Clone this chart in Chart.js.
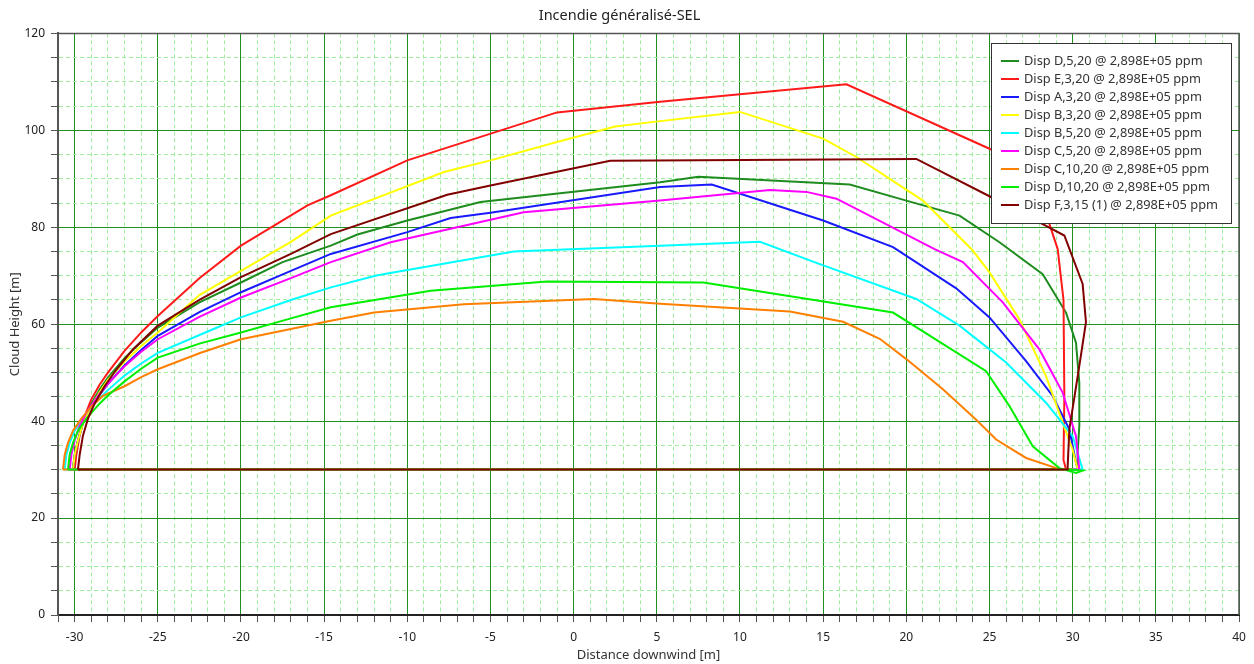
<!DOCTYPE html>
<html>
<head>
<meta charset="utf-8">
<title>Incendie généralisé-SEL</title>
<script src="https://cdn.jsdelivr.net/npm/chart.js@4.4.1/dist/chart.umd.min.js"></script>
<style>
  html, body { margin: 0; padding: 0; background: #fff; }
  #wrap { width: 1254px; height: 664px; }
</style>
</head>
<body>
<div id="wrap"><canvas id="cloudChart" width="1254" height="664"></canvas></div>
<script>
// series: x = distance downwind [m], y = cloud height [m]
const dispD5x = [-30.1, -30, -29.8, -29.5, -29, -28.5, -28, -27, -26, -25, -22.5, -20, -17.5, -14.6, -13, -10, -5.6, 5.2, 7.5, 16.6, 20, 23.2, 25.6, 28.2, 29.6, 30.2, 30.4, 30.4, 30.3, 30.3, -30.1];
const dispD5y = [30, 33, 36, 40, 43.6, 46.5, 49, 53, 56.3, 59.3, 64.5, 68.6, 72.8, 76.2, 78.5, 81.4, 85.2, 89.3, 90.4, 88.8, 85.5, 82.4, 76.9, 70.3, 62.4, 56.2, 47.9, 39, 33.5, 30, 30];

const dispE3x = [-30, -29.9, -29.7, -29.4, -29, -28.5, -28, -27, -26, -25, -22.5, -20, -16, -14.6, -10, -1, 5.2, 16.4, 25, 27.5, 28.6, 29.1, 29.45, 29.5, 29.45, 29.6, -30];
const dispE3y = [30, 33, 37, 41, 44.5, 47.5, 50, 54.5, 58.3, 61.7, 69.5, 76.2, 84.5, 86.6, 93.8, 103.7, 105.9, 109.5, 96.2, 91, 80.7, 75.5, 65, 45, 32, 30, 30];

const dispA3x = [-30.1, -30, -29.8, -29.5, -29, -28.5, -28, -27, -26, -25, -22.5, -20, -17, -14.6, -10, -7.4, -5, 5.2, 8.3, 15, 19.2, 23, 25, 27.2, 28.8, 29.8, 30.2, 30.3, -30.1];
const dispA3y = [30, 33, 36, 39.5, 42.8, 45.4, 47.7, 51.5, 54.7, 57.6, 62.5, 66.6, 71, 74.5, 79, 81.9, 83, 88.3, 88.8, 81.4, 75.9, 67.4, 61.4, 52.4, 45.2, 38.3, 31.4, 30, 30];

const dispB3x = [-30.1, -30, -29.8, -29.5, -29, -28.5, -28, -27, -26, -25, -22.5, -20, -17, -14.6, -7.8, -5, -1, 2.5, 5.2, 10, 15, 17, 21, 24, 25, 26.8, 28.4, 29.4, 30, 30.3, -30.1];
const dispB3y = [30, 33, 36, 39.5, 43, 46, 48.5, 52.3, 55.5, 58.3, 66, 71, 77, 82.4, 91.4, 93.8, 97.6, 100.8, 101.9, 103.8, 98.3, 94.5, 85.5, 75.2, 70.7, 61, 49.3, 39.7, 34.1, 30, 30];

const dispB5x = [-30.6, -30.5, -30.3, -30, -29.5, -29, -28, -27, -26, -25, -22, -20, -17, -14.6, -11.8, -3.6, 5.2, 11.2, 14.8, 20.6, 23.2, 26, 28.4, 30, 30.6, -30.6];
const dispB5y = [30, 33, 35.5, 38, 40.7, 43, 46.4, 49.4, 51.9, 54.1, 58.5, 61.4, 65, 67.6, 70.1, 75, 76.2, 77, 72.4, 65.2, 59.7, 52.1, 43.8, 36.9, 30, 30];

const dispC5x = [-30.3, -30.2, -30, -29.7, -29.3, -28.5, -28, -27, -26, -25, -22.5, -20, -17, -14.6, -11, -3, 5.2, 11.8, 14, 15.8, 21.7, 23.4, 25.8, 28, 29.4, 30.2, 30.4, -30.3];
const dispC5y = [30, 33, 36, 39, 41.7, 45.7, 47.7, 51.3, 54.3, 56.9, 61.5, 65.5, 69.5, 72.8, 76.9, 83.1, 85.5, 87.7, 87.3, 85.9, 75.5, 72.8, 64.5, 54.8, 45.9, 36.9, 30, 30];

const dispC10x = [-30.7, -30.6, -30.4, -30.1, -29.6, -29, -28.3, -27, -26, -25, -22.5, -20, -17, -14.6, -12, -6.6, 1.2, 5.2, 13, 16.2, 18.4, 20, 22.2, 24.2, 25.4, 27.2, 29.2, 30, -30.7];
const dispC10y = [30, 33, 35.5, 38, 40.5, 43, 45.2, 47.2, 49.1, 50.7, 54, 56.9, 59, 60.7, 62.4, 64.1, 65.2, 64.2, 62.6, 60.5, 57, 52.8, 46.6, 40.3, 36.2, 32.4, 30.1, 30, 30];

const dispD10x = [-30.4, -30.3, -30.1, -29.8, -29.3, -28.5, -28, -27, -26, -25, -22.5, -20, -17, -14.6, -8.6, -1.6, 7.8, 19.2, 24.8, 26.2, 27.6, 29.2, 30.2, 30.6, 29.8, -30.4];
const dispD10y = [30, 33, 35.5, 38, 40.5, 43.6, 45.3, 48.2, 50.8, 53.1, 56, 58.3, 61.2, 63.5, 66.9, 68.8, 68.6, 62.4, 50.3, 43.1, 34.8, 30.3, 29.3, 29.8, 30, 30];

const dispF3x = [-29.8, -29.7, -29.5, -29.2, -28.8, -28.2, -27.5, -26.5, -25, -22.5, -20, -17, -14.6, -7.6, -5, 2.2, 20.6, 25, 28, 29.5, 30.6, 30.8, 30.4, 29.8, 29.7, 29.7, -29.8];
const dispF3y = [30, 33, 37, 40.5, 43.6, 47.2, 50.6, 54.8, 59.7, 65, 69.7, 74.5, 78.6, 86.7, 88.6, 93.7, 94.1, 86.4, 81, 78.3, 68.3, 60.4, 51.4, 38.3, 30.7, 30, 30];

const seriesLabels = [
  "Disp D,5,20 @ 2,898E+05 ppm",
  "Disp E,3,20 @ 2,898E+05 ppm",
  "Disp A,3,20 @ 2,898E+05 ppm",
  "Disp B,3,20 @ 2,898E+05 ppm",
  "Disp B,5,20 @ 2,898E+05 ppm",
  "Disp C,5,20 @ 2,898E+05 ppm",
  "Disp C,10,20 @ 2,898E+05 ppm",
  "Disp D,10,20 @ 2,898E+05 ppm",
  "Disp F,3,15 (1) @ 2,898E+05 ppm"
];
const seriesX = [dispD5x, dispE3x, dispA3x, dispB3x, dispB5x, dispC5x, dispC10x, dispD10x, dispF3x];
const seriesY = [dispD5y, dispE3y, dispA3y, dispB3y, dispB5y, dispC5y, dispC10y, dispD10y, dispF3y];
const seriesColors = ["#1e8c1e", "#ff1a1a", "#1a1aff", "#ffff00", "#00ffff", "#ff00ff", "#ff8000", "#00ee00", "#800000"];

const FONT = "'Noto Sans', 'Open Sans', sans-serif";
Chart.defaults.font.family = FONT;
Chart.defaults.color = "#333";

const datasets = seriesLabels.map((label, i) => ({
  label: label,
  data: seriesX[i].map((x, j) => ({x: x, y: seriesY[i][j]})),
  showLine: true,
  borderColor: seriesColors[i],
  backgroundColor: seriesColors[i],
  borderWidth: 2,
  pointRadius: 0,
  tension: 0,
  fill: false,
  order: seriesLabels.length - i
}));

// legend box drawn inside the plot, top right
const boxLegend = {
  id: "boxLegend",
  afterDraw(chart) {
    const ctx = chart.ctx;
    ctx.save();
    ctx.fillStyle = "#fff";
    ctx.fillRect(991, 43, 240, 180);
    ctx.strokeStyle = "#333";
    ctx.lineWidth = 1;
    ctx.strokeRect(991.5, 43.5, 240, 180);
    ctx.font = "12.8px " + FONT;
    ctx.textBaseline = "middle";
    chart.data.datasets.forEach((ds, i) => {
      const y = 61 + i * 18;
      ctx.strokeStyle = ds.borderColor;
      ctx.lineWidth = 2;
      ctx.beginPath();
      ctx.moveTo(1001, y);
      ctx.lineTo(1019, y);
      ctx.stroke();
      ctx.fillStyle = "#333";
      ctx.fillText(ds.label, 1024, y);
    });
    ctx.restore();
  }
};

// top and right edges of the plot frame
const plotFrame = {
  id: "plotFrame",
  afterDatasetsDraw(chart) {
    const a = chart.chartArea;
    const ctx = chart.ctx;
    ctx.save();
    ctx.strokeStyle = "#555";
    ctx.lineWidth = 1.5;
    ctx.beginPath();
    ctx.moveTo(a.left, a.top);
    ctx.lineTo(a.right, a.top);
    ctx.lineTo(a.right, a.bottom);
    ctx.stroke();
    ctx.restore();
  }
};

new Chart(document.getElementById("cloudChart"), {
  type: "scatter",
  data: { datasets: datasets },
  plugins: [plotFrame, boxLegend],
  options: {
    responsive: false,
    animation: false,
    layout: { padding: { left: 0, right: 15, top: 0, bottom: 0 } },
    plugins: {
      legend: { display: false },
      tooltip: { enabled: false },
      title: {
        display: true,
        text: "Incendie généralisé-SEL",
        color: "#222",
        font: { size: 14.5, weight: "normal" },
        padding: { top: 7, bottom: 9 }
      }
    },
    scales: {
      x: {
        type: "linear",
        min: -31,
        max: 40,
        afterFit(scale) { scale.height = 49; },
        ticks: {
          stepSize: 1,
          autoSkip: false,
          maxTicksLimit: 200,
          maxRotation: 0,
          padding: 8,
          color: "#222",
          font: { size: 12 },
          callback: v => (v % 5 === 0 ? String(v) : "")
        },
        grid: {
          color: c => (c.tick && c.tick.value % 5 === 0 ? "#1f8f1f" : "#9eee9e"),
          lineWidth: 1,
          tickColor: "#555",
          tickLength: 7
        },
        border: {
          color: "#222",
          width: 2,
          dash: c => (c.tick && c.tick.value % 5 === 0 ? [] : [4, 3])
        },
        title: {
          display: true,
          text: "Distance downwind [m]",
          color: "#333",
          font: { size: 13 },
          padding: { top: 0, bottom: 1 }
        }
      },
      y: {
        type: "linear",
        min: 0,
        max: 120,
        afterFit(scale) { scale.width = 58; },
        ticks: {
          stepSize: 5,
          autoSkip: false,
          maxTicksLimit: 200,
          padding: 6,
          color: "#222",
          font: { size: 12 },
          callback: v => (v % 20 === 0 ? String(v) : "")
        },
        grid: {
          color: c => (c.tick && c.tick.value % 20 === 0 ? "#1f8f1f" : "#9eee9e"),
          lineWidth: 1,
          tickColor: "#555",
          tickLength: 7
        },
        border: {
          color: "#555",
          width: 2,
          dash: c => (c.tick && c.tick.value % 20 === 0 ? [] : [4, 3])
        },
        title: {
          display: true,
          text: "Cloud Height [m]",
          color: "#333",
          font: { size: 13 },
          padding: { top: 7, bottom: 0 }
        }
      }
    }
  }
});
</script>
</body>
</html>
